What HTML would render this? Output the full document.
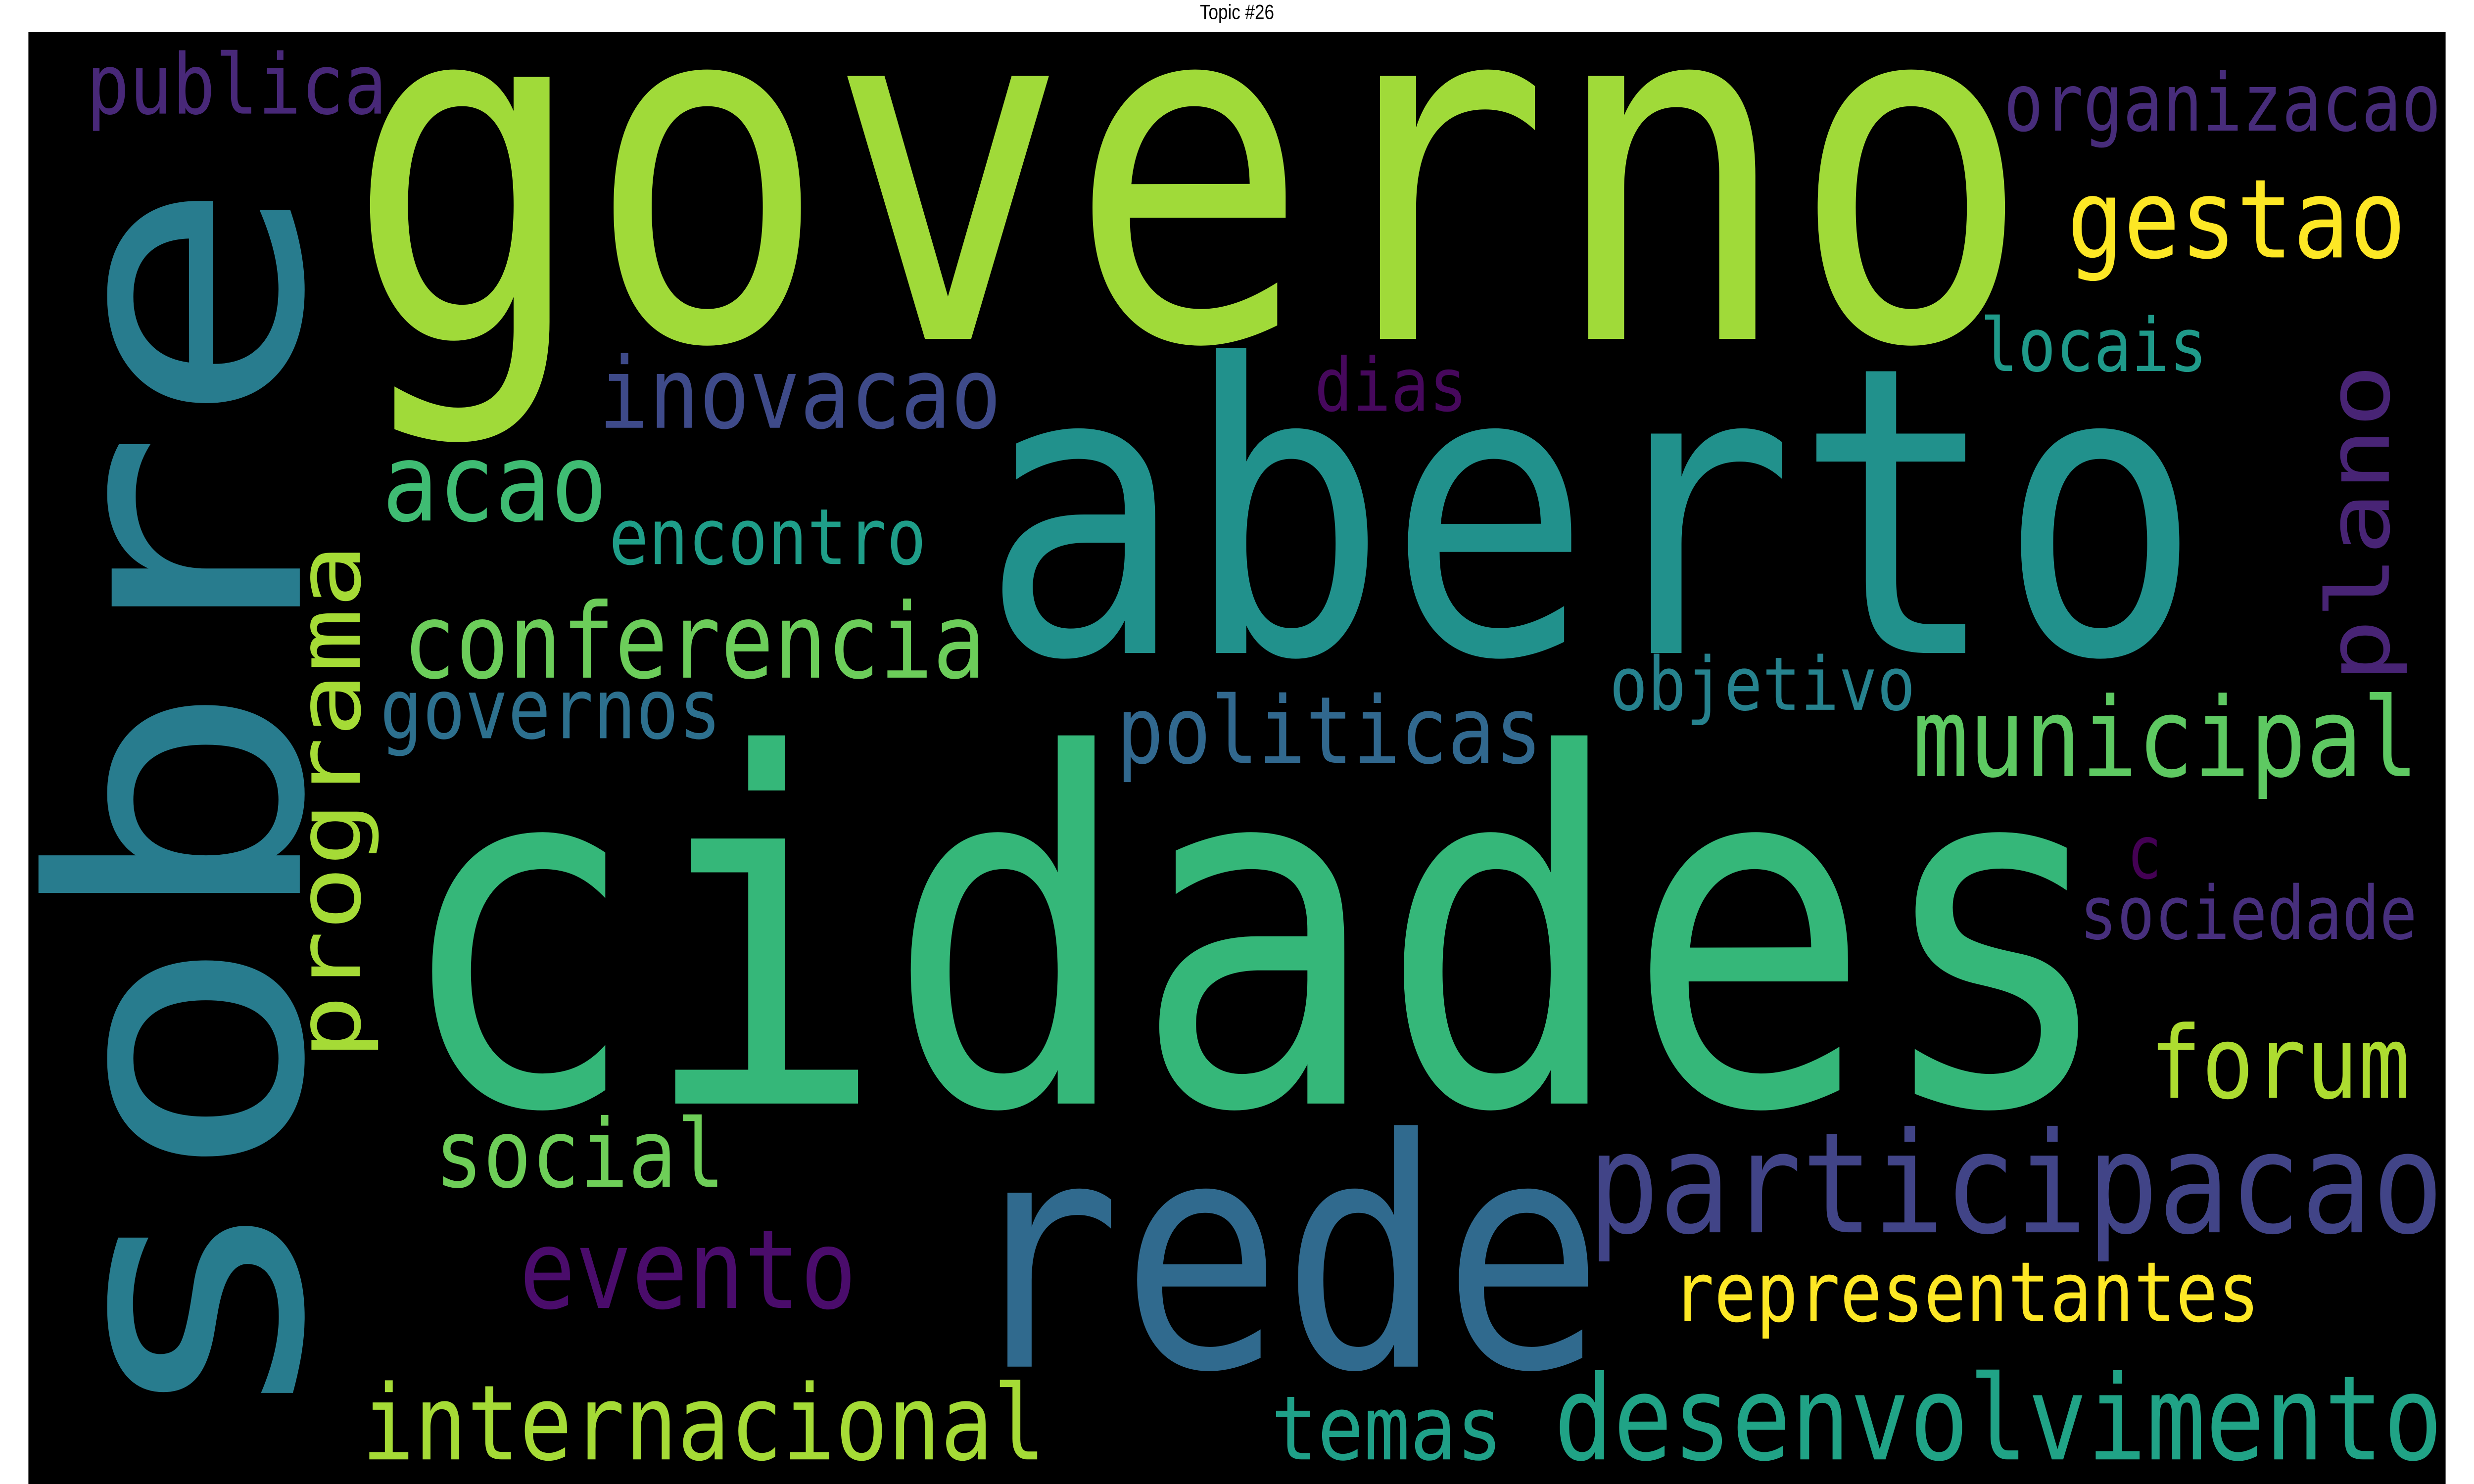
<!DOCTYPE html>
<html><head><meta charset="utf-8"><style>
html,body{margin:0;padding:0;background:#fff;width:100%;height:100%;overflow:hidden;}
svg{display:block;width:100vw;height:100vh;}
text{font-family:"DejaVu Sans Mono","Liberation Mono",monospace;}
</style></head><body>
<svg id="wc" viewBox="0 0 1568 784" preserveAspectRatio="none" xmlns="http://www.w3.org/2000/svg">
<text x="784" y="10" text-anchor="middle" style="font-family:'Liberation Sans',sans-serif" font-size="11" fill="#000">Topic #26</text>
<rect x="18" y="17" width="1532" height="767" fill="#000"/>
<g id="words"></g>
</svg>
<script>
const words = ["publica","governo","organizacao","gestao","locais","dias","inovacao","aberto","acao","encontro","conferencia","objetivo","governos","politicas","municipal","cidades","c","sociedade","forum","social","participacao","rede","evento","representantes","internacional","temas","desenvolvimento"];
const inkStart = [57,232,1272,1313,1257,835,382,632,245,388,258,1022,243,710,1215,262,1350,1320,1365,278,1010,617,332,1062,232,808,988];
const inkEnd = [243,1275,1545,1522,1397,928,632,1385,382,585,622,1212,455,975,1530,1330,1368,1530,1525,457,1545,1008,540,1430,660,950,1545];
const baseline = [60,179,69,136,196,217,226,345,275,298,358,375,390,403,410,583,464,496,580,627,651,722,691,698,771,771,771];
const sizes = [44,254,42,58,39,39,52,212,57,41,55,39,44,49,58,256,39,39,53,50,74,168,58,44,55,47,62];
const colors = ["#482878","#a0da39","#472c7a","#fde725","#1f9a8a","#46085c","#3e4a89","#21918c","#3fbc73","#1f9e89","#6ccd5a","#26828e","#2d708e","#31688e","#5ec962","#35b779","#440154","#472f7d","#addc30","#6ece58","#414487","#306a8e","#4a0c6b","#fde725","#a5db36","#1fa088","#20a386"];
const rWords = ["sobre","programa","plano"];
const rBaseX = [190,228,1514];
const rTop = [104,290,195];
const rBottom = [748,557,358];
const rSizes = [218,56,55];
const rColors = ["#287c8e","#a5db36","#482475"];

const NS="http://www.w3.org/2000/svg";
const g=document.getElementById('words');
words.forEach((w,i)=>{
  const t=document.createElementNS(NS,'text');
  const fs=sizes[i];
  t.setAttribute('x',inkStart[i]-0.05*fs);
  t.setAttribute('y',baseline[i]);
  t.setAttribute('font-size',fs);
  t.setAttribute('fill',colors[i]);
  t.setAttribute('textLength',(inkEnd[i]-inkStart[i])+0.1*fs);
  t.setAttribute('lengthAdjust','spacingAndGlyphs');
  
  
  t.textContent=w;
  g.appendChild(t);
});
rWords.forEach((w,i)=>{
  const t=document.createElementNS(NS,'text');
  const fs=rSizes[i];
  const y0=rBottom[i]+0.05*fs;
  t.setAttribute('x',0);
  t.setAttribute('y',0);
  t.setAttribute('transform','translate('+rBaseX[i]+','+y0+') rotate(-90)');
  t.setAttribute('font-size',fs);
  t.setAttribute('fill',rColors[i]);
  t.setAttribute('textLength',(rBottom[i]-rTop[i])+0.1*fs);
  t.setAttribute('lengthAdjust','spacingAndGlyphs');
  
  
  t.textContent=w;
  g.appendChild(t);
});
</script>
</body></html>
